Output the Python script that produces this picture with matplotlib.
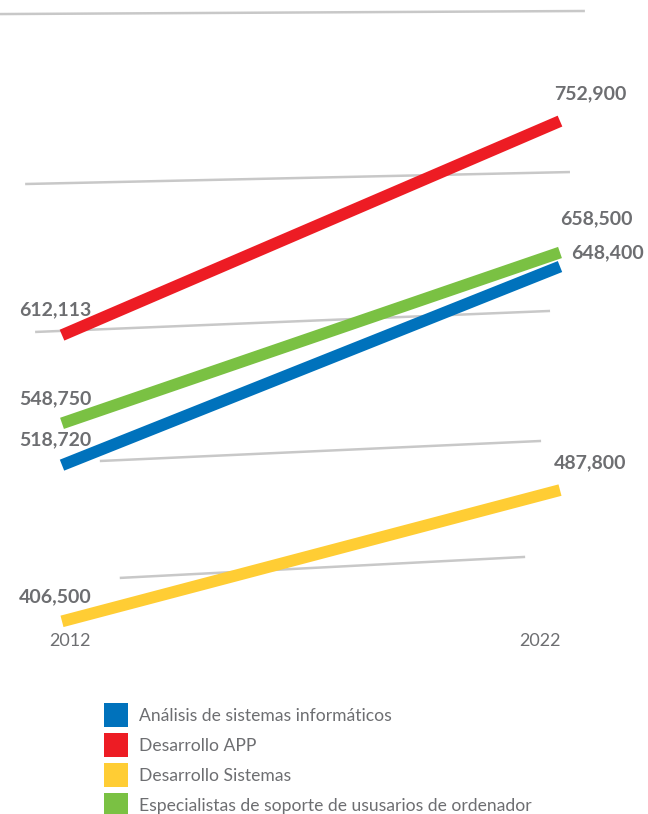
import matplotlib
matplotlib.use("Agg")
import matplotlib.pyplot as plt
import matplotlib.transforms as mtransforms
from matplotlib.patches import Patch

plt.rcParams['font.family'] = ['Lato', 'DejaVu Sans']

years = ['2012', '2022']
series = ['Análisis de sistemas informáticos', 'Desarrollo APP',
          'Desarrollo Sistemas', 'Especialistas de soporte de ususarios de ordenador']
v2012 = [518720, 612113, 406500, 548750]
v2022 = [648400, 752900, 487800, 658500]
colors = ['#0072bc', '#ed1c24', '#ffcd34', '#7ac143']

# decorative guide lines: left/right value and x extent
grid_left = [842800, 720700, 614400, 521700, 437700]
grid_right = [845000, 729300, 629500, 536100, 452800]
grid_x0 = [-0.125, -0.074, -0.054, 0.076, 0.116]
grid_x1 = [1.05, 1.02, 0.98, 0.962, 0.93]

# label offsets in points (2022 side)
right_off = [(34, 10), (22, 20), (22, 20), (26, 24.5)]

txt = '#6d6e71'

fig = plt.figure(figsize=(6.48, 8.14), dpi=100)
ax = fig.add_axes([0, 0, 1, 1])
ax.set_xlim(-0.1245, 1.1767)
ax.set_ylim(268100, 852900)
ax.axis('off')

# slight upward tilt to the right
tilt = mtransforms.Affine2D().from_values(1, 13000, 0, 1, 0, 0) + ax.transData

for a, b, l, r in zip(grid_x0, grid_x1, grid_left, grid_right):
    ax.plot([a, b], [l, r], color='#c8c8c8', lw=1.8, zorder=1, solid_capstyle='butt')

draw_order = [3, 0, 1, 2]
for i in draw_order:
    ax.plot([0, 1], [v2012[i], v2022[i]], color=colors[i], lw=8.5,
            solid_capstyle='butt', transform=tilt, zorder=3)

for i in range(len(series)):
    ax.annotate(f'{v2012[i]:,}', xy=(0, v2012[i]), xycoords=tilt,
                xytext=(-5, 18), textcoords='offset points',
                ha='center', va='center', fontsize=14, fontweight='bold', color=txt)
    ax.annotate(f'{v2022[i]:,}', xy=(1, v2022[i]), xycoords=tilt,
                xytext=right_off[i], textcoords='offset points',
                ha='center', va='center', fontsize=14, fontweight='bold', color=txt)

yb = mtransforms.blended_transform_factory(ax.transData, ax.transAxes)
ax.text(0.016, 1 - 641 / 814, years[0], transform=yb, ha='center', va='center',
        fontsize=13, color=txt)
ax.text(0.96, 1 - 641 / 814, years[1], transform=yb, ha='center', va='center',
        fontsize=13, color=txt)

handles = [Patch(facecolor=c, edgecolor='none') for c in colors]
leg = fig.legend(handles, series, loc='upper left', bbox_to_anchor=(104 / 648, 1 - 703 / 814),
                 frameon=False, fontsize=12.6, handlelength=1.37, handleheight=1.73,
                 labelspacing=0.343, handletextpad=0.63, borderpad=0, borderaxespad=0)
for t in leg.get_texts():
    t.set_color(txt)

fig.savefig('out.png', dpi=100)
